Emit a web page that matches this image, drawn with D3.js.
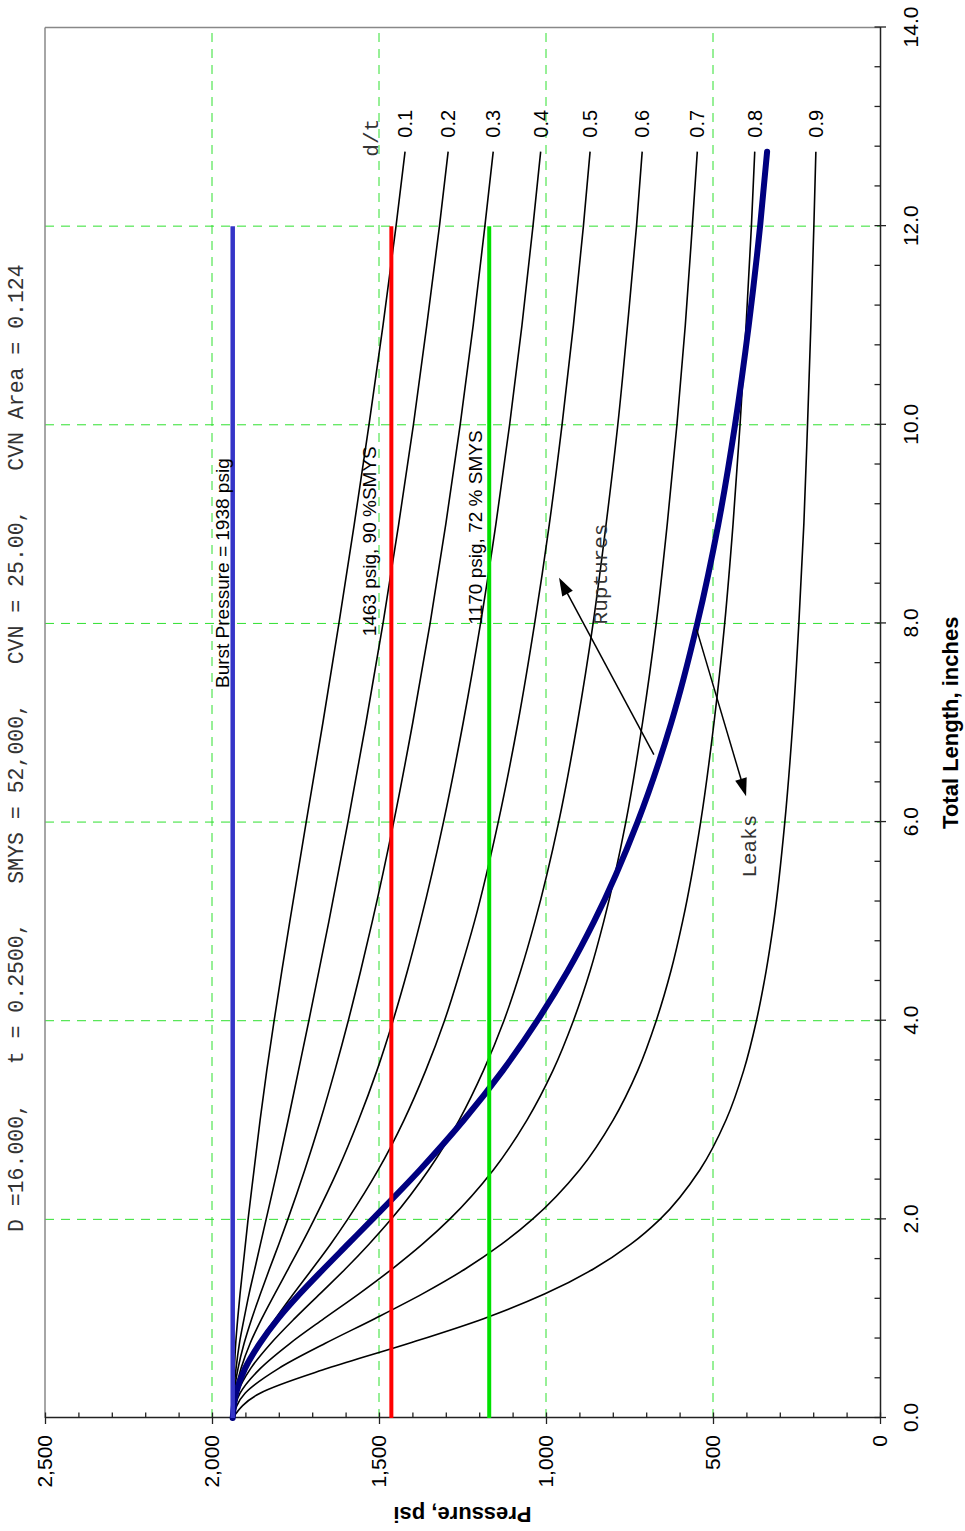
<!DOCTYPE html>
<meta charset="utf-8">
<script src="https://d3js.org/d3.v7.min.js"></script>
<style>
  body { margin: 0; background: #fff; }
</style>
<div id="chart"></div>
<script>
  // total flaw length (inches) where the curves were read
  const lengths = [0, 0.25, 0.5, 0.75, 1, 1.25, 1.5, 1.75, 2, 2.5, 3, 3.5, 4, 4.5, 5, 6, 7, 8, 9, 10, 11, 12, 12.75];

  // failure pressure (psi) for each d/t
  const dtLabels = ["0.1", "0.2", "0.3", "0.4", "0.5", "0.6", "0.7", "0.8", "0.9"];
  const dt01 = [1938, 1937, 1933, 1929, 1923, 1916, 1908, 1900, 1892, 1874, 1856, 1836, 1814, 1791, 1767, 1718, 1668, 1620, 1574, 1530, 1488, 1449, 1422];
  const dt02 = [1938, 1935, 1928, 1918, 1904, 1889, 1872, 1855, 1838, 1804, 1772, 1741, 1710, 1680, 1650, 1593, 1539, 1488, 1441, 1397, 1357, 1319, 1293];
  const dt03 = [1938, 1934, 1922, 1904, 1881, 1855, 1828, 1800, 1773, 1722, 1675, 1632, 1592, 1555, 1520, 1456, 1399, 1347, 1300, 1257, 1218, 1183, 1158];
  const dt04 = [1938, 1931, 1913, 1886, 1851, 1812, 1772, 1732, 1694, 1623, 1561, 1506, 1458, 1415, 1376, 1307, 1248, 1196, 1150, 1109, 1072, 1039, 1016];
  const dt05 = [1938, 1928, 1901, 1861, 1810, 1756, 1700, 1645, 1594, 1502, 1425, 1360, 1304, 1257, 1214, 1143, 1084, 1034, 990, 952, 918, 888, 868];
  const dt06 = [1938, 1924, 1884, 1824, 1753, 1677, 1601, 1530, 1464, 1351, 1260, 1187, 1126, 1076, 1033, 962, 906, 859, 820, 785, 756, 729, 712];
  const dt07 = [1938, 1916, 1855, 1767, 1665, 1560, 1461, 1370, 1289, 1157, 1057, 979, 918, 868, 827, 761, 711, 670, 637, 608, 583, 562, 547];
  const dt08 = [1938, 1901, 1800, 1662, 1513, 1370, 1242, 1133, 1041, 899, 799, 725, 670, 626, 591, 537, 497, 465, 440, 419, 401, 385, 375];
  const dt09 = [1938, 1856, 1654, 1412, 1187, 1003, 858, 746, 659, 539, 461, 408, 370, 341, 318, 285, 261, 243, 228, 217, 207, 198, 192];
  const dtSeries = [dt01, dt02, dt03, dt04, dt05, dt06, dt07, dt08, dt09];

  // leak / rupture boundary (through-wall)
  const leakRupture = [1938, 1928, 1901, 1857, 1802, 1737, 1666, 1593, 1520, 1377, 1246, 1129, 1026, 935, 856, 726, 625, 547, 484, 434, 393, 359, 338];

  // reference pressures, drawn out to 12 inches
  const burstPressure = 1938;
  const pressure90 = 1463;
  const pressure72 = 1170;
  const refLineEnd = 12;

  const pressureTicks = [0, 500, 1000, 1500, 2000, 2500];
  const lengthTicks = [0, 2, 4, 6, 8, 10, 12, 14];

  const titleText = "D =16.000,   t = 0.2500,   SMYS = 52,000,   CVN = 25.00,   CVN Area = 0.124";

  // arrows: [length, pressure] tail -> tip
  const rupturesArrow = [[6.68, 677], [8.46, 961]];
  const leaksArrow = [[7.94, 549], [6.26, 401]];

  // page box of the plot (chart is turned a quarter turn)
  const W = 965, H = 1531;
  const boxLeft = 45, boxBottom = 1418, boxTop = 27.5, boxRight = 880;
  const plotW = boxBottom - boxTop;   // along length
  const plotH = boxRight - boxLeft;   // along pressure

  const svg = d3.select("#chart").append("svg")
    .attr("width", W).attr("height", H)
    .style("font-family", "'Liberation Sans', Arial, sans-serif");

  // everything is drawn as a normal chart, then rotated
  const g = svg.append("g")
    .attr("transform", `translate(${boxLeft},${boxBottom}) rotate(-90)`);

  const x = d3.scaleLinear().domain([0, 14]).range([0, plotW]);
  const y = d3.scaleLinear().domain([0, 2500]).range([plotH, 0]);

  const gridColor = "#2fe02f";

  // grid
  g.append("g").selectAll("line")
    .data([500, 1000, 1500, 2000])
    .join("line")
    .attr("x1", 0).attr("x2", plotW)
    .attr("y1", d => y(d)).attr("y2", d => y(d))
    .attr("stroke", gridColor).attr("stroke-width", 1)
    .attr("stroke-dasharray", "9,7");

  g.append("g").selectAll("line")
    .data([2, 4, 6, 8, 10, 12])
    .join("line")
    .attr("x1", d => x(d)).attr("x2", d => x(d))
    .attr("y1", 0).attr("y2", plotH)
    .attr("stroke", gridColor).attr("stroke-width", 1)
    .attr("stroke-dasharray", "9,7");

  // frame (top and left of the page)
  g.append("line")
    .attr("x1", 0).attr("x2", plotW).attr("y1", 0).attr("y2", 0)
    .attr("stroke", "#888").attr("stroke-width", 1.5);
  g.append("line")
    .attr("x1", plotW).attr("x2", plotW).attr("y1", 0).attr("y2", plotH)
    .attr("stroke", "#888").attr("stroke-width", 1.5);

  // axes
  const pAxisMinor = g.append("g")
    .call(d3.axisLeft(y).tickValues(d3.range(0, 2501, 100)).tickSize(-5.5).tickFormat(""));
  pAxisMinor.select(".domain").remove();

  const pAxis = g.append("g")
    .call(d3.axisLeft(y).tickValues(pressureTicks).tickSizeInner(6).tickSizeOuter(0)
      .tickPadding(11).tickFormat(d3.format(",")));

  const lAxisMinor = g.append("g")
    .attr("transform", `translate(0,${plotH})`)
    .call(d3.axisBottom(x).tickValues(d3.range(0, 14.01, 0.4)).tickSize(-5.5).tickFormat(""));
  lAxisMinor.select(".domain").remove();

  const lAxis = g.append("g")
    .attr("transform", `translate(0,${plotH})`)
    .call(d3.axisBottom(x).tickValues(lengthTicks).tickSizeInner(6).tickSizeOuter(0)
      .tickPadding(17).tickFormat(d3.format(".1f")));

  [pAxisMinor, pAxis, lAxisMinor, lAxis].forEach(a => {
    a.selectAll("line").attr("stroke", "#222").attr("stroke-width", 1.3);
    a.selectAll(".domain").attr("stroke", "#222").attr("stroke-width", 1.5);
    a.selectAll("text")
      .attr("fill", "#000")
      .style("font-size", "21px")
      .style("font-family", "'Liberation Sans', Arial, sans-serif");
  });

  // axis titles
  g.append("text")
    .attr("x", plotW / 2).attr("y", plotH + 78)
    .attr("text-anchor", "middle")
    .style("font-size", "22px").style("font-weight", "bold")
    .text("Total Length, inches");

  g.append("text")
    .attr("transform", `translate(-89,${plotH / 2}) rotate(-90)`)
    .attr("text-anchor", "middle")
    .style("font-size", "22px").style("font-weight", "bold")
    .text("Pressure, psi");

  // title
  g.append("text")
    .attr("x", 186).attr("y", -22)
    .style("font-family", "'Liberation Mono', 'Courier New', monospace")
    .style("font-size", "21.5px")
    .style("white-space", "pre")
    .attr("fill", "#333")
    .text(titleText);

  // curves
  const line = d3.line()
    .curve(d3.curveMonotoneX)
    .x((d, i) => x(lengths[i]))
    .y(d => y(d));

  g.append("g").selectAll("path")
    .data(dtSeries)
    .join("path")
    .attr("d", d => line(d))
    .attr("fill", "none")
    .attr("stroke", "#000")
    .attr("stroke-width", 1.6);

  g.append("path")
    .attr("d", line(leakRupture))
    .attr("fill", "none")
    .attr("stroke", "#000080")
    .attr("stroke-width", 6)
    .attr("stroke-linecap", "round");

  // reference pressure lines
  const refLines = [
    { p: burstPressure, color: "#3535c8", w: 4.5 },
    { p: pressure90, color: "#ff0000", w: 4 },
    { p: pressure72, color: "#00e000", w: 4 }
  ];
  g.append("g").selectAll("line")
    .data(refLines)
    .join("line")
    .attr("x1", x(0)).attr("x2", x(refLineEnd))
    .attr("y1", d => y(d.p)).attr("y2", d => y(d.p))
    .attr("stroke", d => d.color)
    .attr("stroke-width", d => d.w);

  // labels on the reference lines
  const refLabels = [
    { text: "Burst Pressure = 1938 psig", L: 7.35, p: burstPressure, off: -4 },
    { text: "1463 psig, 90 %SMYS", L: 7.87, p: pressure90, off: -15 },
    { text: "1170 psig, 72 % SMYS", L: 7.99, p: pressure72, off: -7 }
  ];
  g.append("g").selectAll("text")
    .data(refLabels)
    .join("text")
    .attr("x", d => x(d.L))
    .attr("y", d => y(d.p) + d.off)
    .style("font-size", "19px")
    .style("white-space", "pre")
    .text(d => d.text);

  // d/t labels at curve ends
  const last = lengths.length - 1;
  g.append("g").selectAll("text")
    .data(dtSeries)
    .join("text")
    .attr("x", x(lengths[last]) + 14)
    .attr("y", d => y(d[last]))
    .attr("dy", "0.35em")
    .style("font-size", "20px")
    .text((d, i) => dtLabels[i]);

  const mono = "'Liberation Mono', 'Courier New', monospace";
  g.append("text")
    .attr("x", x(12.70)).attr("y", y(1524)).attr("dy", "0.35em")
    .style("font-family", mono).style("font-size", "21px").attr("fill", "#333")
    .text("d/t");

  g.append("text")
    .attr("x", x(7.99)).attr("y", y(817))
    .style("font-family", mono).style("font-size", "21px").attr("fill", "#333")
    .text("Ruptures");

  g.append("text")
    .attr("x", x(5.44)).attr("y", y(371))
    .style("font-family", mono).style("font-size", "21px").attr("fill", "#333")
    .text("Leaks");

  // arrows
  function arrow(a) {
    const x1 = x(a[0][0]), y1 = y(a[0][1]);
    const x2 = x(a[1][0]), y2 = y(a[1][1]);
    const len = Math.hypot(x2 - x1, y2 - y1);
    const ux = (x2 - x1) / len, uy = (y2 - y1) / len;
    const hl = 18, hw = 6;
    const bx = x2 - ux * hl, by = y2 - uy * hl;
    g.append("line")
      .attr("x1", x1).attr("y1", y1)
      .attr("x2", bx + ux * 4).attr("y2", by + uy * 4)
      .attr("stroke", "#000").attr("stroke-width", 1.5);
    g.append("path")
      .attr("d", `M${x2},${y2}L${bx - uy * hw},${by + ux * hw}L${bx + uy * hw},${by - ux * hw}Z`)
      .attr("fill", "#000");
  }
  arrow(rupturesArrow);
  arrow(leaksArrow);
</script>
